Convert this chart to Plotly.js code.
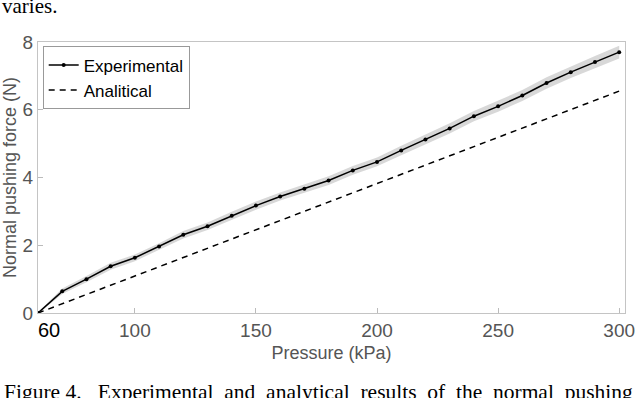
<!DOCTYPE html>
<html>
<head>
<meta charset="utf-8">
<script src="https://cdn.plot.ly/plotly-3.0.1.min.js"></script>
<style>
  body { margin: 0; padding: 0; background: #fff; }
  #chart { width: 640px; height: 398px; }
</style>
</head>
<body>
<div id="chart"></div>
<script>
// pressure steps (kPa)
var pressure = [60, 70, 80, 90, 100, 110, 120, 130, 140, 150, 160, 170, 180,
                190, 200, 210, 220, 230, 240, 250, 260, 270, 280, 290, 300];
// measured pushing force (N)
var force_exp = [0, 0.64, 1.0, 1.38, 1.63, 1.96, 2.31, 2.56, 2.87, 3.17, 3.44, 3.67, 3.91,
                 4.21, 4.46, 4.80, 5.12, 5.45, 5.81, 6.10, 6.42, 6.79, 7.11, 7.41, 7.70];
// spread of the measurements (N)
var force_sd = [0.02, 0.08, 0.09, 0.1, 0.1, 0.1, 0.11, 0.11, 0.12, 0.12, 0.12, 0.12, 0.13,
                0.13, 0.13, 0.14, 0.15, 0.15, 0.15, 0.16, 0.16, 0.17, 0.17, 0.18, 0.19];
// analytical model
var pressure_ana = [60, 300];
var force_ana = [0, 6.55];

var upper = [], lower = [];
for (var i = 0; i < pressure.length; i++) {
  upper.push(force_exp[i] + force_sd[i]);
  lower.push(force_exp[i] - force_sd[i]);
}

var band_lo = {
  x: pressure, y: lower, mode: 'lines', line: {width: 0},
  showlegend: false, hoverinfo: 'skip'
};
var band_hi = {
  x: pressure, y: upper, mode: 'lines', line: {width: 0},
  fill: 'tonexty', fillcolor: 'rgba(190,190,190,0.6)',
  showlegend: false, hoverinfo: 'skip'
};
var exp = {
  x: pressure, y: force_exp, name: 'Experimental',
  mode: 'lines+markers',
  line: {color: '#000', width: 1.5},
  marker: {color: '#000', size: 4}
};
var ana = {
  x: pressure_ana, y: force_ana, name: 'Analitical',
  mode: 'lines',
  line: {color: '#000', width: 1.5, dash: '6px,5px'}
};

var grey = '#555';
var serif = 'Liberation Serif, Times New Roman, serif';
var layout = {
  width: 640, height: 398,
  margin: {l: 38, r: 15, t: 42, b: 85},
  paper_bgcolor: '#fff', plot_bgcolor: '#fff',
  font: {family: 'Liberation Sans, Arial, sans-serif', size: 18, color: grey},
  showlegend: true,
  legend: {
    x: 0.008, y: 0.984, xanchor: 'left', yanchor: 'top',
    traceorder: 'normal',
    bgcolor: '#fff', bordercolor: '#999', borderwidth: 1,
    font: {size: 17, color: '#000'},
    tracegroupgap: 0, itemwidth: 30
  },
  xaxis: {
    range: [60, 302.4],
    tickvals: [100, 150, 200, 250, 300],
    ticks: 'inside', ticklen: 5, tickcolor: '#bbb',
    showline: true, mirror: true, linecolor: '#c4c4c4', linewidth: 1,
    showgrid: false, zeroline: false,
    tickfont: {size: 19, color: grey},
    title: {text: 'Pressure (kPa)', font: {size: 18, color: grey}, standoff: 6}
  },
  yaxis: {
    range: [0, 8],
    tickvals: [0, 2, 4, 6, 8],
    ticks: 'inside', ticklen: 5, tickcolor: '#bbb',
    showline: true, mirror: true, linecolor: '#c4c4c4', linewidth: 1,
    showgrid: false, zeroline: false,
    tickfont: {size: 19, color: grey},
    title: {text: 'Normal pushing force (N)', font: {size: 18, color: grey}, standoff: 4}
  },
  annotations: [
    {text: '60', xref: 'paper', yref: 'paper', x: 0.019, y: -0.063,
     xanchor: 'center', yanchor: 'middle', showarrow: false,
     font: {size: 20, color: '#000', family: 'Liberation Sans, Arial, sans-serif'}},
    {text: 'varies.', xref: 'paper', yref: 'paper', x: -0.065, y: 1.08,
     xanchor: 'left', yanchor: 'bottom', showarrow: false,
     font: {size: 21, color: '#000', family: serif}},
    {text: 'Figure 4.   Experimental  and  analytical  results  of  the  normal  pushing',
     xref: 'paper', yref: 'paper', x: -0.062, y: -0.24,
     xanchor: 'left', yanchor: 'top', showarrow: false,
     font: {size: 21.5, color: '#000', family: serif}}
  ]
};

Plotly.newPlot('chart', [band_lo, band_hi, exp, ana], layout, {displayModeBar: false, staticPlot: true});
</script>
</body>
</html>
